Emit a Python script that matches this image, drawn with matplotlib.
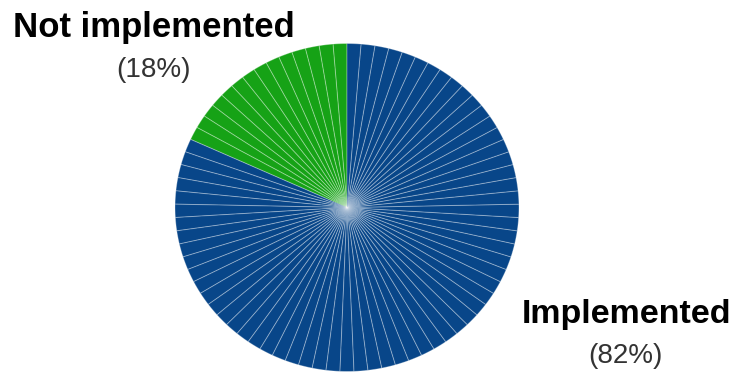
import matplotlib.pyplot as plt

# one wedge per item, grouped by status
labels = ["Not implemented", "Implemented"]
counts = [14, 63]
colors = ["#16a216", "#084689"]

total = sum(counts)
sizes = []
wedge_colors = []
for n, c in zip(counts, colors):
    sizes += [1] * n
    wedge_colors += [c] * n

fig = plt.figure(figsize=(7.35, 3.74), dpi=100)
ax = fig.add_axes([0.2381, 0.0067, 0.468, 0.877])
ax.pie(sizes, colors=wedge_colors, startangle=90, counterclock=True,
       wedgeprops=dict(edgecolor=(1, 1, 1, 0.3), linewidth=0.7))
ax.set_aspect('auto')
ax.set_xlim(-1, 1)
ax.set_ylim(-1, 1)

# labels with share in brackets
pct = [round(100 * n / total) for n in counts]
fig.text(154 / 735, 1 - 37 / 374, labels[0], ha='center', va='baseline',
         fontsize=25, fontweight='bold', family='Liberation Sans')
fig.text(154 / 735, 1 - 77 / 374, f"({pct[0]}%)", ha='center', va='baseline',
         fontsize=20, color='#333333', family='Liberation Sans')
fig.text(627 / 735, 1 - 323 / 374, labels[1], ha='center', va='baseline',
         fontsize=24.5, fontweight='bold', family='Liberation Sans')
fig.text(625 / 735, 1 - 363 / 374, f"({pct[1]}%)", ha='center', va='baseline',
         fontsize=20, color='#333333', family='Liberation Sans')

fig.savefig("out.png", dpi=100)
